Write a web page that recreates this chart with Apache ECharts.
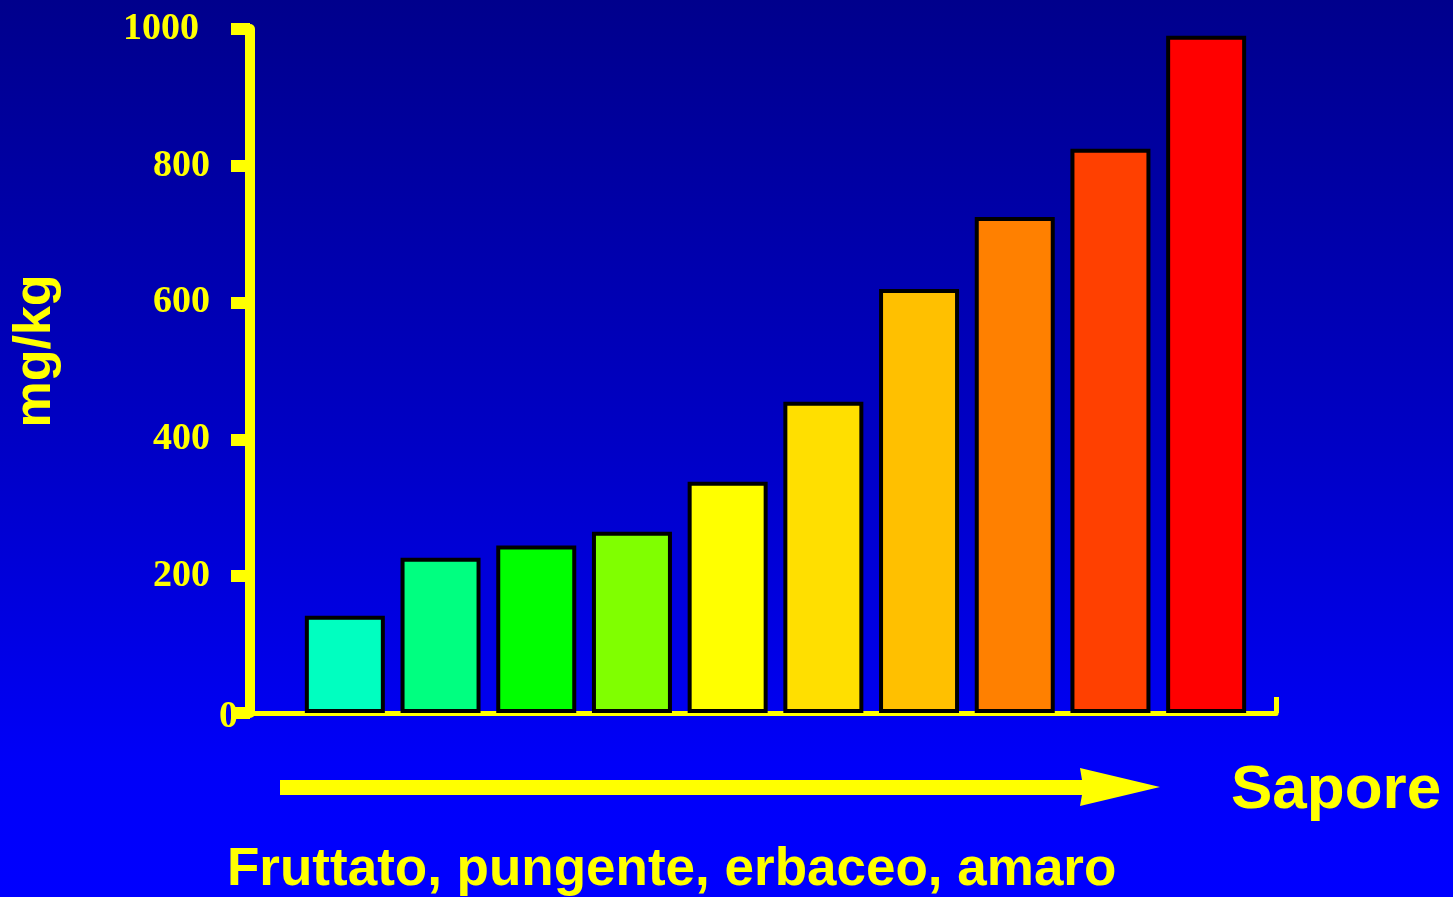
<!DOCTYPE html>
<html>
<head>
<meta charset="utf-8">
<title>Polifenoli e sapore</title>
<script src="https://cdn.jsdelivr.net/npm/echarts@6/dist/echarts.min.js"></script>
<style>
  html, body { margin: 0; padding: 0; background: #0000c8; }
  #chart { width: 1453px; height: 897px; }
</style>
</head>
<body>
<div id="chart"></div>
<script>
// Polyphenol content (mg/kg) per sample, from mild to strongest taste
const categories = ['1', '2', '3', '4', '5', '6', '7', '8', '9', '10'];
const values = [142, 227, 245, 265, 338, 455, 620, 725, 825, 990];
const barColors = ['#00FFC0', '#00FF80', '#00FF00', '#80FF00', '#FFFF00',
                   '#FFDF00', '#FFC000', '#FF8000', '#FF4000', '#FF0000'];
const yTicks = [0, 200, 400, 600, 800, 1000];
const yUnit = 'mg/kg';
const xTitle = 'Sapore';
const tasteNote = 'Fruttato, pungente, erbaceo, amaro';

const YELLOW = '#FFFF00';
const serif = '"Liberation Serif", "Times New Roman", serif';
const sans = '"Liberation Sans", Arial, sans-serif';

const chart = echarts.init(document.getElementById('chart'), null, { renderer: 'canvas' });

const labelBase = { fontFamily: serif, fontWeight: 'bold', fontSize: 38, color: YELLOW };

chart.setOption({
  backgroundColor: new echarts.graphic.LinearGradient(0, 0, 0, 1, [
    { offset: 0, color: '#00008C' },
    { offset: 0.5, color: '#0000C6' },
    { offset: 0.85, color: '#0000F8' },
    { offset: 1, color: '#0000FF' }
  ]),
  animation: false,
  grid: [
    // frame grid: carries the yellow axes
    { left: 250, right: 177, top: 29, bottom: 184, containLabel: false },
    // bar grid: the ten bars sit inside the frame
    { left: 297, right: 199, top: 29, bottom: 184, containLabel: false }
  ],
  xAxis: [
    {
      gridIndex: 0, type: 'value', min: 0, max: 1, interval: 1,
      axisLine: { show: true, lineStyle: { color: YELLOW, width: 5 } },
      axisTick: { show: true, inside: true, length: 16, lineStyle: { color: YELLOW, width: 5 } },
      axisLabel: { show: false },
      splitLine: { show: false }
    },
    {
      gridIndex: 1, type: 'category', data: categories,
      axisLine: { show: false }, axisTick: { show: false },
      axisLabel: { show: false }, splitLine: { show: false }
    }
  ],
  yAxis: [
    {
      gridIndex: 0, type: 'value', min: yTicks[0], max: yTicks[yTicks.length - 1], interval: 200,
      axisLine: { show: true, lineStyle: { color: YELLOW, width: 10 } },
      axisTick: { show: true, length: 19, lineStyle: { color: YELLOW, width: 12 } },
      splitLine: { show: false },
      axisLabel: {
        show: true,
        margin: 12,
        showMinLabel: true,
        showMaxLabel: true,
        formatter: function (v) {
          if (v === 0) return '{z|0}';
          if (v === 1000) return '{k|1000}';
          return '{n|' + v + '}';
        },
        rich: {
          n: Object.assign({ padding: [0, 28, 0, 0] }, labelBase),
          k: Object.assign({ padding: [0, 39, 0, 0] }, labelBase),
          z: Object.assign({ padding: [8, 0, 0, 0] }, labelBase)
        }
      }
    },
    {
      gridIndex: 1, type: 'value', min: 0, max: 1000, show: false,
      splitLine: { show: false }
    }
  ],
  series: [
    {
      type: 'bar',
      xAxisIndex: 1,
      yAxisIndex: 1,
      barWidth: 80,
      data: values.map(function (v, i) {
        return { value: v, itemStyle: { color: barColors[i] } };
      }),
      itemStyle: { borderColor: '#000000', borderWidth: 4 },
      emphasis: { disabled: true }
    }
  ],
  graphic: [
    {
      type: 'text',
      x: 36, y: 351,
      rotation: Math.PI / 2,
      style: {
        text: yUnit, fill: YELLOW,
        font: 'bold 52px ' + sans,
        align: 'center', verticalAlign: 'middle'
      }
    },
    {
      type: 'polygon',
      shape: {
        points: [[280, 780], [1082, 780], [1080, 768], [1160, 787],
                 [1080, 806], [1082, 795], [280, 795]]
      },
      style: { fill: YELLOW }
    },
    {
      type: 'text',
      x: 1231, y: 791,
      style: {
        text: xTitle, fill: YELLOW,
        font: 'bold 62px ' + sans,
        align: 'left', verticalAlign: 'middle'
      }
    },
    {
      type: 'text',
      x: 227, y: 870,
      style: {
        text: tasteNote, fill: YELLOW,
        font: 'bold 53px ' + sans,
        align: 'left', verticalAlign: 'middle'
      }
    }
  ]
});
</script>
</body>
</html>
